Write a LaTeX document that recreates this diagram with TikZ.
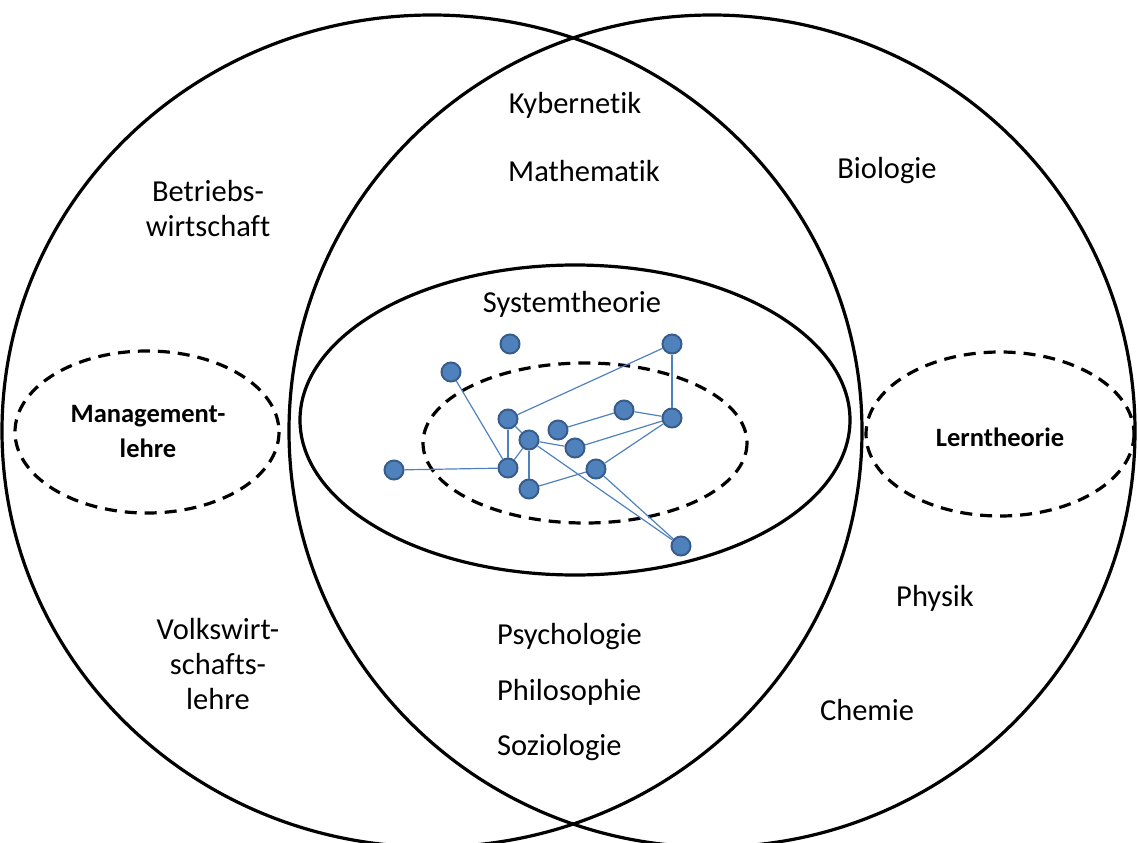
\documentclass[tikz,border=0pt]{standalone}
\usepackage{fontspec}
\setmainfont{Carlito}[Ligatures=NoCommon]
\begin{document}
\begin{tikzpicture}[x=1pt,y=-1pt,
  ring/.style={draw=black,line width=3.2pt},
  dashring/.style={draw=black,line width=3.2pt,dash pattern=on 12pt off 8pt},
  dot/.style={circle,fill=blueFill,draw=blueEdge,line width=2pt,minimum size=19pt,inner sep=0pt},
  link/.style={draw=blueFill,line width=1.2pt},
  word/.style={font=\fontsize{30.5}{35}\selectfont,align=center,inner sep=0pt},
  boldword/.style={font=\fontsize{26.5}{35}\selectfont\bfseries,align=center,inner sep=0pt}]
\definecolor{blueFill}{HTML}{4F81BD}
\definecolor{blueEdge}{HTML}{385D8A}
\useasboundingbox (0,0) rectangle (1138,843);

% two overlapping disciplines
\draw[ring] (432,431) ellipse [x radius=430, y radius=416];
\draw[ring] (712,431) ellipse [x radius=423, y radius=416];
% system theory core
\draw[ring] (575,420) ellipse [x radius=275, y radius=155];
% dashed sub-areas
\draw[dashring] (585,443) ellipse [x radius=162, y radius=80];
\draw[dashring] (147,432) ellipse [x radius=132, y radius=81];
\draw[dashring] (1000,434) ellipse [x radius=134, y radius=82];

% labels
\node[word] (kyb) at (575,105) {Kybernetik};
\node[word] (math) at (584,171) {Mathematik};
\node[word] (bio) at (887,171) {Biologie};
\node[word] (bwl) at (208,209) {Betriebs-\\wirtschaft};
\node[word] (sys) at (572,304) {Systemtheorie};
\node[boldword] (mgmt) at (148,432) {Management-\\lehre};
\node[boldword] (lern) at (1000,437) {Lerntheorie};
\node[word] (vwl) at (218,664) {Volkswirt-\\schafts-\\lehre};
\node[word,anchor=west] (psy) at (497,637) {Psychologie};
\node[word,anchor=west] (phil) at (497,692) {Philosophie};
\node[word,anchor=west] (soz) at (497,748) {Soziologie};
\node[word] (phys) at (935,598) {Physik};
\node[word] (chem) at (867,710) {Chemie};

% network nodes
\node[dot] (a) at (510,344) {};
\node[dot] (b) at (672,344) {};
\node[dot] (c) at (451,372) {};
\node[dot] (d) at (508,419) {};
\node[dot] (e) at (624,410) {};
\node[dot] (f) at (672,418) {};
\node[dot] (g) at (558,430) {};
\node[dot] (h) at (529,440) {};
\node[dot] (i) at (575,448) {};
\node[dot] (j) at (394,470) {};
\node[dot] (k) at (508,468) {};
\node[dot] (l) at (596,469) {};
\node[dot] (m) at (529,489) {};
\node[dot] (n) at (681,546) {};

% network links
\draw[link] (c) -- (k);
\draw[link] (j) -- (k);
\draw[link] (d) -- (k);
\draw[link] (d) -- (b);
\draw[link] (d) -- (h);
\draw[link] (h) -- (k);
\draw[link] (h) -- (m);
\draw[link] (h) -- (i);
\draw[link] (h) -- (n);
\draw[link] (b) -- (f);
\draw[link] (g) -- (e);
\draw[link] (e) -- (f);
\draw[link] (i) -- (f);
\draw[link] (l) -- (f);
\draw[link] (m) -- (l);
\draw[link] (l) -- (n);
\end{tikzpicture}
\end{document}
